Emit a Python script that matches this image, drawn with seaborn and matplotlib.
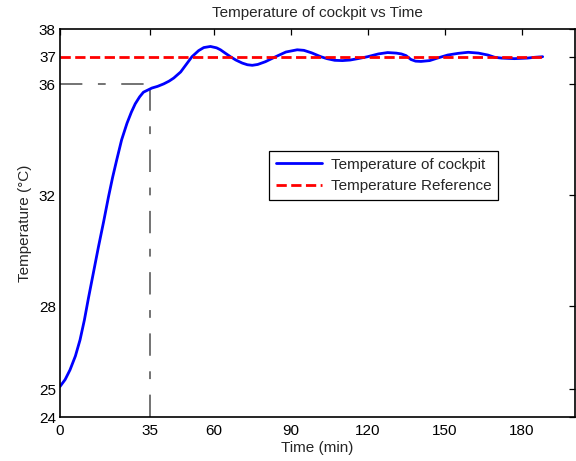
import numpy as np
import pandas as pd
import matplotlib
matplotlib.use("Agg")
import matplotlib.pyplot as plt
import seaborn as sns

time_min = [0, 2, 3.9, 6, 7.8, 9.5, 11.1, 13, 15, 17, 18.9, 20.5, 22.1, 24, 26.1, 27.8,
            29.3, 31, 32.5, 35.8, 38, 40.4, 42.5, 44.3, 47, 49, 51.4, 54, 56, 58.6, 61,
            62.5, 64.5, 66.4, 68.5, 71, 73, 74.9, 77, 80, 84, 88, 92.4, 95, 98, 101.6,
            104, 107, 110, 113, 116, 119.8, 124, 127.6, 131, 133, 134.8, 136.7, 138.5,
            140.6, 144, 147, 151, 155, 159, 163, 166.7, 169.3, 172, 177, 182, 185, 188]
temp_cockpit = [25.1, 25.35, 25.7, 26.2, 26.78, 27.5, 28.3, 29.2, 30.15, 31.05, 31.95,
                32.65, 33.28, 34.0, 34.6, 35.0, 35.3, 35.55, 35.72, 35.87, 35.93, 36.02,
                36.12, 36.23, 36.45, 36.7, 37.0, 37.22, 37.33, 37.37, 37.32, 37.25, 37.12,
                37.0, 36.88, 36.77, 36.71, 36.69, 36.72, 36.82, 37.0, 37.17, 37.25, 37.23,
                37.14, 37.0, 36.93, 36.87, 36.86, 36.88, 36.93, 37.0, 37.1, 37.15, 37.13,
                37.1, 37.04, 36.9, 36.84, 36.83, 36.86, 36.95, 37.06, 37.12, 37.16, 37.13,
                37.06, 36.98, 36.95, 36.93, 36.95, 36.98, 37.0]
ref_time = [0, 188]
ref_temp = [37, 37]
mark_time = 35
mark_temp = 36

x_ticks = [0, 35, 60, 90, 120, 150, 180]
y_ticks = [24, 25, 28, 32, 36, 37, 38]

sns.set_style("white")
plt.rcParams['font.family'] = ['Liberation Sans', 'DejaVu Sans']
plt.rcParams['font.size'] = 11

fig = plt.figure(figsize=(5.76, 4.61), dpi=100)
ax = fig.add_axes([60/576, 1-417/461, 515/576, 388/461])

df = pd.DataFrame({"t": time_min, "T": temp_cockpit})
sns.lineplot(data=df, x="t", y="T", ax=ax, color=(0, 0, 1), lw=2.0,
             label="Temperature of cockpit", sort=False)
sns.lineplot(x=ref_time, y=ref_temp, ax=ax, color=(1, 0, 0), lw=2.0,
             linestyle="--", label="Temperature Reference")

dash = (0, (11.5, 8, 4, 8))
ax.plot([0, mark_time], [mark_temp, mark_temp], color="0.45", lw=1.4,
        linestyle=dash, zorder=1)
ax.plot([mark_time, mark_time], [24, mark_temp], color="0.45", lw=1.4,
        linestyle=dash, zorder=1)

ax.set_xlim(0, 200.6)
ax.set_ylim(24, 38)
ax.set_xticks(x_ticks)
ax.set_yticks(y_ticks)
ax.tick_params(direction="in", top=True, right=True, length=4, width=0.9,
               labelsize=11, colors="black", pad=3)
ax.tick_params(axis="x", pad=5)
for s in ax.spines.values():
    s.set_visible(True)
    s.set_color("black")
    s.set_linewidth(1.2)

ax.set_title("Temperature of cockpit vs Time", fontsize=11, pad=9)
ax.set_xlabel("Time (min)", fontsize=11, labelpad=2)
ax.set_ylabel("Temperature (°C)", fontsize=11, labelpad=5)

leg = ax.legend(loc="upper left", bbox_to_anchor=(0.406, 0.686), borderaxespad=0,
                fancybox=False, edgecolor="black", framealpha=1, fontsize=11,
                handlelength=3.0, handletextpad=0.6, borderpad=0.45, labelspacing=0.5)
leg.get_frame().set_linewidth(0.9)

fig.savefig("out.png", dpi=100)
